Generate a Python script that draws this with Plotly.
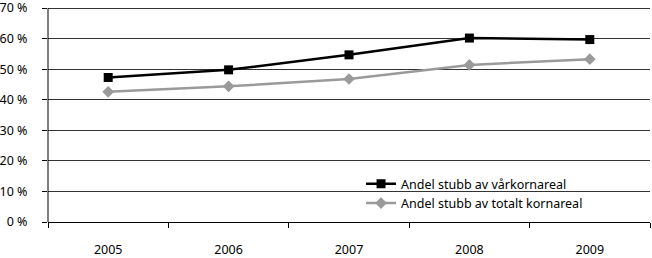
import plotly.graph_objects as go

years = [2005, 2006, 2007, 2008, 2009]
var_share = [47.3, 49.8, 54.7, 60.2, 59.7]
total_share = [42.6, 44.4, 46.8, 51.4, 53.3]
y_ticks = [0, 10, 20, 30, 40, 50, 60, 70]
PAD = "<span style='color:rgba(0,0,0,0);font-size:10.5px'>00</span>"
y_ticktext = [f"{v} %{PAD}" for v in y_ticks]

FONT = "Noto Sans"

fig = go.Figure()
fig.add_trace(go.Scatter(
    x=years, y=var_share, name="Andel stubb av vårkornareal",
    mode="lines+markers",
    line=dict(color="black", width=2.5),
    marker=dict(symbol="square", size=9, color="black"),
))
fig.add_trace(go.Scatter(
    x=years, y=total_share, name="Andel stubb av totalt kornareal",
    mode="lines+markers",
    line=dict(color="#9a9a9a", width=2.5),
    marker=dict(symbol="diamond", size=9, color="#9a9a9a"),
))

# y axis line drawn only up to the 70 % gridline
fig.add_shape(type="line", xref="paper", yref="y", x0=0, x1=0, y0=0, y1=70,
              line=dict(color="black", width=1))

fig.update_layout(
    width=652, height=258,
    margin=dict(l=47, r=2, t=0, b=35),
    paper_bgcolor="white", plot_bgcolor="white",
    font=dict(family=FONT, size=12.5, color="black"),
    showlegend=True,
    legend=dict(
        x=0.52, y=0.24, xanchor="left", yanchor="top",
        bgcolor="rgba(0,0,0,0)", borderwidth=0,
        font=dict(family=FONT, size=12.5, color="black"),
        tracegroupgap=0, itemwidth=30,
    ),
)
fig.update_xaxes(
    range=[years[0] - 0.5, years[-1] + 0.5],
    tickmode="linear", tick0=years[0], dtick=1,
    showline=True, linecolor="black", linewidth=1,
    ticks="outside", ticklen=16, tickcolor="rgba(0,0,0,0)",
    minor=dict(tickmode="linear", tick0=years[0] - 0.5, dtick=1,
               ticks="outside", ticklen=5, tickcolor="black", showgrid=False),
    showgrid=False, zeroline=False, tickfont=dict(size=12.5),
)
fig.update_yaxes(
    range=[0, 72],
    tickvals=y_ticks, ticktext=y_ticktext,
    showline=False,
    ticks="outside", ticklen=5, tickcolor="black",
    showgrid=True, gridcolor="#333333", gridwidth=1,
    zeroline=False, ticklabeloverflow="allow",
    tickfont=dict(size=12.5),
)

fig.write_html("out.html")
